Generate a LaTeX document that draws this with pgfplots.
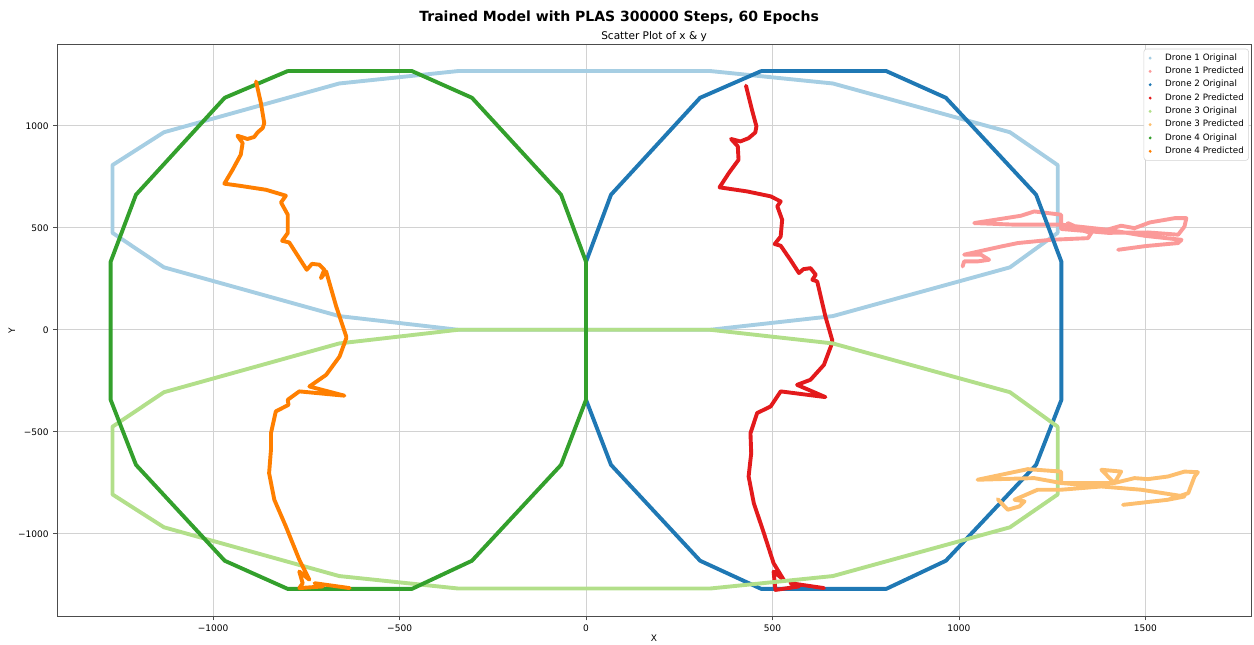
\documentclass[border=0pt]{standalone}
\usepackage{fontspec}
\setmainfont{DejaVu Sans}
\usepackage{pgfplots}
\pgfplotsset{compat=1.18}
\definecolor{cA}{HTML}{A6CEE3}
\definecolor{cB}{HTML}{FB9A99}
\definecolor{cC}{HTML}{1F78B4}
\definecolor{cD}{HTML}{E31A1C}
\definecolor{cE}{HTML}{B2DF8A}
\definecolor{cF}{HTML}{FDBF6F}
\definecolor{cG}{HTML}{33A02C}
\definecolor{cH}{HTML}{FF7F00}
\begin{document}
\begin{tikzpicture}
\path[use as bounding box] (-41pt,-20.2pt) rectangle (862pt,444.2pt);
\begin{axis}[
  scale only axis, width=860pt, height=412pt,
  at={(0,0)}, anchor=south west,
  clip mode=individual,
  xmin=-1419, xmax=1784, ymin=-1407, ymax=1397,
  xtick={-1000,-500,0,500,1000,1500},
  xticklabels={−1000,−500,0,500,1000,1500},
  ytick={-1000,-500,0,500,1000},
  yticklabels={−1000,−500,0,500,1000},
  xtick pos=lower, ytick pos=left,
  grid=major, grid style={gray!35, line width=0.5pt},
  axis line style={gray!60!black, line width=0.6pt},
  tick align=outside, major tick length=2.5pt, tick style={gray!60!black, line width=0.5pt},
  ticklabel style={font=\fontsize{6.5}{7}\selectfont},
  xlabel={X}, ylabel={Y},
  label style={font=\fontsize{6.5}{7}\selectfont},
  xlabel style={at={(axis description cs:0.5,0)}, anchor=center, yshift=-15.3pt},
  ylabel style={at={(axis description cs:0,0.5)}, anchor=center, yshift=32.4pt},
  every axis plot/.append style={line width=2.8pt, line join=round, line cap=round},
  legend image code/.code={\path[draw=none,fill=none] (0,-0.05cm) rectangle (0.42cm,0.05cm); \fill[draw=none] (0.07cm,0cm) circle (1.15pt);},
  legend style={at={(0.998,0.993)}, anchor=north east, font=\fontsize{6.3}{7}\selectfont,
    draw=gray!35, rounded corners=2pt, row sep=1.5pt, inner sep=2.5pt,
    nodes={inner sep=0.9pt}},
  legend cell align=left,
]
% Drone 1 Original
\addplot[cA] coordinates {(1265,475) (1265,807) (1137,968) (662,1207) (333,1268) (-343,1268) (-662,1207) (-1132,968) (-1270,807) (-1270,475) (-1132,306) (-662,67) (-343,0) (333,0) (662,67) (1137,306) (1265,475)};
\addlegendentry{Drone 1 Original}
% Drone 1 Predicted
\addplot[cB] coordinates {(1010,310) (1014,335) (1050,335) (1081,343) (1059,368) (1014,368) (1113,408) (1158,425) (1247,441) (1346,449) (1355,474) (1310,498) (1292,523) (1320,500) (1382,482) (1435,510) (1471,498) (1512,526) (1579,547) (1610,547) (1605,506) (1588,466) (1507,477) (1400,475) (1274,494) (1274,564) (1202,580) (1167,559) (1041,523) (1150,515) (1274,515) (1400,490) (1500,460) (1597,441) (1588,425) (1500,410) (1427,392)};
\addlegendentry{Drone 1 Predicted}
% Drone 2 Original
\addplot[cC] coordinates {(470,1268) (805,1268) (965,1137) (1207,662) (1275,333) (1275,-343) (1207,-662) (965,-1132) (805,-1270) (470,-1270) (306,-1132) (67,-662) (0,-343) (0,333) (67,662) (306,1137) (470,1268)};
\addlegendentry{Drone 2 Original}
% Drone 2 Predicted
\addplot[cD] coordinates {(429,1196) (445,1078) (457,997) (454,967) (436,939) (414,923) (389,935) (407,899) (409,833) (383,768) (358,698) (432,678) (495,654) (522,629) (513,605) (526,539) (522,457) (506,420) (522,412) (548,343) (571,278) (583,297) (602,302) (616,270) (607,245) (620,237) (642,65) (660,-49) (660,-65) (638,-172) (602,-245) (566,-270) (642,-330) (522,-302) (495,-376) (459,-408) (441,-507) (443,-605) (436,-719) (450,-850) (477,-997) (503,-1144) (530,-1225) (503,-1185) (508,-1275) (571,-1258) (548,-1242) (638,-1266)};
\addlegendentry{Drone 2 Predicted}
% Drone 3 Original
\addplot[cE] coordinates {(1265,-475) (1265,-807) (1137,-968) (662,-1207) (333,-1268) (-343,-1268) (-662,-1207) (-1132,-968) (-1270,-807) (-1270,-475) (-1132,-306) (-662,-67) (-343,0) (333,0) (662,-67) (1137,-306) (1265,-475)};
\addlegendentry{Drone 3 Original}
% Drone 3 Predicted
\addplot[cF] coordinates {(1104,-830) (1131,-882) (1162,-866) (1176,-841) (1149,-833) (1211,-784) (1274,-784) (1382,-768) (1489,-784) (1605,-817) (1561,-833) (1440,-858) (1561,-833) (1615,-801) (1632,-719) (1641,-698) (1605,-695) (1561,-719) (1507,-732) (1471,-727) (1417,-751) (1382,-686) (1435,-695) (1417,-751) (1274,-751) (1274,-695) (1185,-683) (1050,-735) (1202,-727) (1274,-751) (1382,-768)};
\addlegendentry{Drone 3 Predicted}
% Drone 4 Original
\addplot[cG] coordinates {(-800,1268) (-467,1268) (-306,1137) (-67,662) (0,333) (0,-343) (-67,-662) (-306,-1132) (-467,-1270) (-800,-1270) (-969,-1132) (-1207,-662) (-1275,-343) (-1275,333) (-1207,662) (-969,1137) (-800,1268)};
\addlegendentry{Drone 4 Original}
% Drone 4 Predicted
\addplot[cH] coordinates {(-885,1217) (-872,1111) (-863,1013) (-867,989) (-881,967) (-890,945) (-908,935) (-935,951) (-921,915) (-926,858) (-948,784) (-970,716) (-930,706) (-858,686) (-805,657) (-818,624) (-800,564) (-800,474) (-815,436) (-796,428) (-769,351) (-749,294) (-735,323) (-715,319) (-702,294) (-711,253) (-697,286) (-670,114) (-643,-33) (-643,-41) (-661,-131) (-697,-221) (-742,-278) (-648,-323) (-769,-302) (-800,-343) (-798,-368) (-832,-400) (-845,-507) (-845,-588) (-850,-703) (-836,-833) (-805,-964) (-769,-1127) (-742,-1225) (-769,-1185) (-760,-1242) (-769,-1266) (-706,-1258) (-728,-1242) (-634,-1266)};
\addlegendentry{Drone 4 Predicted}
\node[font=\fontsize{7.6}{8}\selectfont, anchor=base] at (rel axis cs:0.5,1) [yshift=3.5pt] {Scatter Plot of x \& y};
\node[font=\bfseries\fontsize{10.1}{11}\selectfont, anchor=base] at (rel axis cs:0.4707,1) [yshift=17pt] {Trained Model with PLAS 300000 Steps, 60 Epochs};
\end{axis}
\end{tikzpicture}
\end{document}
